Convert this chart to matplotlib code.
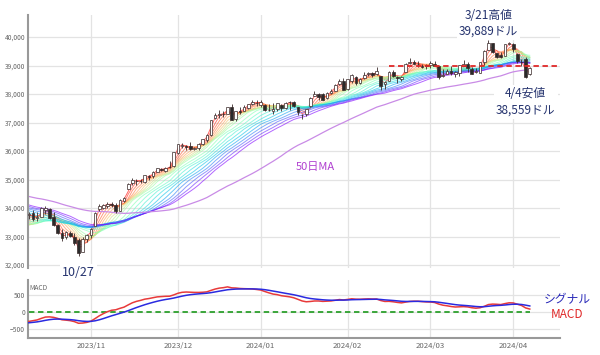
import numpy as np
import pandas as pd
import matplotlib
matplotlib.use("Agg")
import matplotlib.pyplot as plt

plt.rcParams['font.family'] = ['Noto Sans CJK JP', 'DejaVu Sans']

# closes before the visible window (2023/07/03 - 2023/10/10), used to warm up MAs and MACD
pre_close = [
    34418, 34288, 33922, 33734, 33944, 34262, 34347, 34395, 34509, 34586,
    34952, 35061, 35225, 35228, 35411, 35438, 35520, 35283, 35459, 35560,
    35631, 35283, 35216, 35066, 35474, 35314, 35124, 35177, 35281, 35308,
    34946, 34766, 34475, 34501, 34464, 34289, 34473, 34100, 34347, 34560,
    34852, 34891, 34722,
    34838, 34642, 34443, 34501, 34577, 34664, 34646, 34576, 34908, 34618,
    34625, 34518, 34441, 34070, 33964, 34007, 33619, 33551, 33667, 33508,
    33433, 33002, 33129, 33120, 33408, 33605, 33740,
]

# visible window: 2023/10/11 - 2024/04/05 (trading days)
opens = [
    33740, 33810, 33640, 33690, 33920, 33960, 33700, 33400, 33120, 32980, 33120, 33000, 32870, 32470, 32900,
    33040, 33380, 33950, 34000, 34070, 34150, 34120, 33900, 34250, 34650, 34860, 34950, 34960, 34930, 35110, 35120, 35280, 35370, 35310, 35450, 35460,
    35930, 36170, 36170, 36170, 36080, 36100, 36240, 36400, 36570, 37150, 37250, 37300, 37310, 37550, 37120, 37410, 37420, 37520, 37660, 37700,
    37610, 37630, 37440, 37420, 37460, 37610, 37520, 37710, 37730, 37540, 37270, 37300, 37580, 37940, 38000, 37990, 37850, 38020, 38100, 38340, 38460,
    38170, 38460, 38610, 38380, 38550, 38690, 38730, 38690, 38620, 38340, 38450, 38760, 38580, 38530, 38780, 39080, 39120, 39070, 38990, 39020,
    39020, 39050, 38970, 38640, 38700, 38800, 38700, 38750, 38990, 39050, 38880, 38780, 38740, 39130, 39560, 39780, 39450, 39360, 39340, 39770,
    39770, 39410, 39110, 39220, 38690,
]
highs = [
    33860, 33930, 33860, 34020, 34080, 34000, 33850, 33450, 33270, 33200, 33200, 33130, 32960, 32980, 33080,
    33300, 33850, 34150, 34130, 34200, 34210, 34190, 34300, 34380, 34860, 35060, 35010, 35020, 35170, 35150, 35300, 35400, 35410, 35440, 35640, 35960,
    36260, 36280, 36220, 36310, 36150, 36290, 36420, 36580, 37100, 37330, 37430, 37390, 37560, 37640, 37410, 37530, 37620, 37660, 37780, 37790,
    37780, 37660, 37650, 37690, 37690, 37650, 37710, 37770, 37750, 37540, 37300, 37470, 37900, 38110, 38020, 38050, 38080, 38170, 38340, 38520, 38570,
    38530, 38700, 38640, 38550, 38770, 38780, 38770, 38930, 38630, 38440, 38790, 38830, 38630, 38630, 39090, 39280, 39190, 39150, 39050, 39070,
    39150, 39150, 38990, 38860, 38890, 38990, 38800, 39010, 39190, 39120, 38940, 38900, 39120, 39530, 39889, 39800, 39450, 39480, 39770, 39810,
    39780, 39430, 39240, 39300, 38940,
]
lows = [
    33620, 33540, 33530, 33680, 33800, 33620, 33360, 33100, 32850, 32920, 32990, 32690, 32330, 32440, 32820,
    32950, 33380, 33900, 33950, 34000, 34030, 33840, 33880, 34200, 34650, 34820, 34800, 34860, 34880, 34980, 35070, 35260, 35290, 35250, 35400, 35440,
    35900, 36100, 36050, 36040, 36030, 36030, 36200, 36320, 36520, 37120, 37160, 37200, 37290, 37080, 37070, 37310, 37400, 37490, 37630, 37580,
    37530, 37400, 37410, 37310, 37400, 37400, 37490, 37440, 37530, 37280, 37120, 37220, 37550, 37920, 37800, 37790, 37830, 38000, 38090, 38330, 38140,
    38130, 38400, 38330, 38360, 38520, 38630, 38600, 38650, 38150, 38190, 38450, 38580, 38400, 38450, 38760, 39040, 39040, 38950, 38900, 38870,
    38910, 38970, 38530, 38600, 38690, 38660, 38590, 38640, 38980, 38770, 38690, 38730, 38720, 39020, 39540, 39450, 39280, 39280, 39320, 39730,
    39490, 39100, 38990, 38559, 38680,
]
closes = [
    33805, 33631, 33670, 33984, 33997, 33665, 33414, 33127, 32937, 33141, 33035, 32785, 32418, 32929, 33053,
    33275, 33839, 34061, 34096, 34153, 34112, 33892, 34283, 34337, 34828, 34991, 34945, 34947, 35151, 35088, 35273, 35390, 35333, 35416, 35430, 35951,
    36245, 36204, 36125, 36055, 36118, 36248, 36404, 36578, 37090, 37248, 37306, 37306, 37558, 37083, 37405, 37386, 37545, 37657, 37710, 37690,
    37715, 37431, 37440, 37466, 37683, 37526, 37696, 37711, 37593, 37361, 37267, 37469, 37864, 38001, 37906, 37807, 38050, 38109, 38333, 38467, 38150,
    38520, 38654, 38380, 38521, 38677, 38726, 38671, 38797, 38273, 38424, 38773, 38628, 38564, 38612, 39069, 39131, 39069, 39053, 38949, 38996,
    39087, 38990, 38585, 38661, 38791, 38723, 38770, 39005, 39043, 38906, 38715, 38790, 39111, 39512, 39781, 39476, 39314, 39283, 39760, 39807,
    39567, 39170, 39127, 38597, 38904,
]

month_labels = ["2023/11", "2023/12", "2024/01", "2024/02", "2024/03", "2024/04"]
month_start = [15, 36, 56, 77, 97, 117]

rainbow_periods = [2, 3, 4, 5, 6, 7, 8, 9, 10, 12, 14, 16, 18, 20, 22, 24, 26, 28, 30]
long_period = 50
ref_level = 39000
ref_start = 87
low_idx, high_idx, hi_idx = 12, 120, 111

n = len(closes)
x = np.arange(n)
full = pd.Series(pre_close + closes, dtype=float)
npre = len(pre_close)

fig = plt.figure(figsize=(6, 3.55), dpi=100)
ax = fig.add_axes([28/600, 1-268/355, 532/600, 253/355])
axm = fig.add_axes([28/600, 1-338/355, 532/600, 58/355])

navy = '#25336e'
grid_c = '#e3e3e3'

# rainbow moving averages
cols = plt.cm.rainbow(np.linspace(1, 0, len(rainbow_periods)))
for p, c in zip(rainbow_periods, cols):
    ma = full.rolling(p).mean().values[npre:]
    ax.plot(x, ma, color=c, lw=0.7, alpha=0.6, zorder=2)
ma50 = full.rolling(long_period).mean().values[npre:]
ax.plot(x, ma50, color='#c98be6', lw=0.9, zorder=2)

# candles
o = np.array(opens); c_ = np.array(closes); h = np.array(highs); l = np.array(lows)
up = c_ >= o
ax.vlines(x, l, h, color='#3a2a2a', lw=0.6, zorder=3)
ax.bar(x, c_ - o, bottom=o, width=0.65, color=np.where(up, 'white', '#2a2a2a'),
       edgecolor='#3a2a2a', linewidth=0.5, zorder=4)

ax.hlines(ref_level, ref_start, 128.3, colors='#e02828', linestyles=(0, (3, 2)), lw=1.3, zorder=5)

ax.set_xlim(-0.2, 128.3)
ax.set_ylim(31895, 40772)
ax.set_yticks(np.arange(32000, 40001, 1000))
ax.set_yticklabels([f"{v:,}" for v in range(32000, 40001, 1000)])
ax.set_xticks(month_start)
ax.set_xticklabels([])
ax.grid(True, color=grid_c, lw=0.9)
ax.set_axisbelow(True)
for s in ['top', 'right', 'bottom']:
    ax.spines[s].set_visible(False)
ax.spines['left'].set_color('#999999')
ax.spines['left'].set_linewidth(1.5)
ax.tick_params(length=0, labelsize=4.8, labelcolor='#666666', pad=2)

# annotations
bb = dict(facecolor='white', edgecolor='none', pad=1.5)
ax.text(hi_idx, 40490, "3/21高値\n39,889ドル", ha='center', va='center', fontsize=8.5,
        color=navy, linespacing=1.3, bbox=bb, clip_on=False, zorder=6)
ax.text(high_idx, 37720, "4/4安値\n38,559ドル", ha='center', va='center', fontsize=8.5,
        color=navy, linespacing=1.3, bbox=bb, zorder=6)
ax.text(69.3, 35440, "50日MA", ha='center', va='center', fontsize=8, color='#b03fd0', zorder=6)
ax.text(low_idx, 31720, "10/27", ha='center', va='center', fontsize=9, color=navy,
        bbox=bb, clip_on=False, zorder=6)

# MACD
ema12 = full.ewm(span=12, adjust=False).mean()
ema26 = full.ewm(span=26, adjust=False).mean()
macd = ema12 - ema26
signal = macd.ewm(span=9, adjust=False).mean()
axm.hlines(0, 0, n - 1, colors='#2ca02c', linestyles=(0, (3, 2)), lw=1.3, zorder=2)
axm.plot(x, macd.values[npre:], color='#e83a3a', lw=1.1, zorder=3)
axm.plot(x, signal.values[npre:], color='#2a2ae0', lw=1.1, zorder=4)
axm.set_xlim(-0.2, 128.3)
axm.set_ylim(-760, 940)
axm.set_yticks([-500, 0, 500])
axm.set_xticks(month_start)
axm.set_xticklabels(month_labels)
axm.grid(True, color=grid_c, lw=0.9)
axm.set_axisbelow(True)
for s in ['top', 'right']:
    axm.spines[s].set_visible(False)
for s in ['left', 'bottom']:
    axm.spines[s].set_color('#999999')
    axm.spines[s].set_linewidth(1.5)
axm.tick_params(length=0, labelsize=4.8, labelcolor='#666666', pad=2)
axm.tick_params(axis='x', labelsize=5.6, pad=3)
axm.text(0.003, 0.93, "MACD", transform=axm.transAxes, fontsize=4.8, color='#666666', va='top')

fig.text(567/600, 1-300/355, "シグナル", ha='center', va='center', fontsize=8.5, color='#2a2ab8')
fig.text(567/600, 1-315/355, "MACD", ha='center', va='center', fontsize=8.5, color='#e02828')

fig.savefig("out.png", dpi=100)
